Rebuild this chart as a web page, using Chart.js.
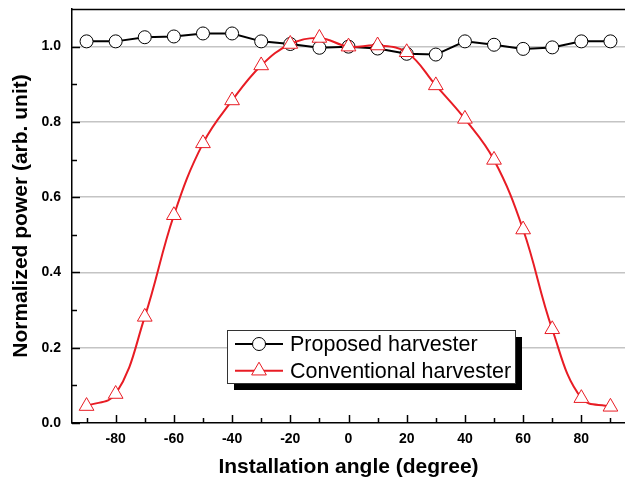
<!DOCTYPE html>
<html lang="en">
<head>
  <meta charset="UTF-8">
  <title>Normalized power vs installation angle</title>
  <script src="https://cdn.jsdelivr.net/npm/chart.js@4.4.3/dist/chart.umd.min.js"></script>
  <style>
    body { margin: 0; background: #fff; }
    canvas { display: block; }
  </style>
</head>
<body>
  <canvas id="powerChart" width="625" height="481"></canvas>

  <script>
    // Data
    const angles = [-90, -80, -70, -60, -50, -40, -30, -20, -10, 0, 10, 20, 30, 40, 50, 60, 70, 80, 90];
    const proposed = [1.014, 1.014, 1.025, 1.027, 1.035, 1.035, 1.014, 1.007, 0.997, 1.0, 0.995, 0.981, 0.979, 1.014, 1.005, 0.994, 0.998, 1.014, 1.014];
    const conventional = [0.045, 0.077, 0.282, 0.552, 0.743, 0.857, 0.95, 1.007, 1.023, 1.0, 1.003, 0.985, 0.897, 0.808, 0.699, 0.514, 0.249, 0.066, 0.043];
    const xTickValues = [-90, -80, -70, -60, -50, -40, -30, -20, -10, 0, 10, 20, 30, 40, 50, 60, 70, 80, 90];
    const yTickValues = [0, 0.1, 0.2, 0.3, 0.4, 0.5, 0.6, 0.7, 0.8, 0.9, 1.0];

    const RED = '#e81c24';
    const FONT = 'Arial, "Liberation Sans", sans-serif';

    const isMajorX = v => v % 20 === 0;
    const isMajorY = v => Math.round(v * 10) % 2 === 0;

    // inside tick marks + top frame line
    const frame = {
      id: 'frame',
      beforeDatasetsDraw(chart) {
        const { ctx, chartArea: a, scales: { x, y } } = chart;
        ctx.save();
        ctx.strokeStyle = '#000';
        ctx.lineWidth = 1.5;
        xTickValues.forEach(v => {
          const px = Math.round(x.getPixelForValue(v)) + 0.5;
          const len = isMajorX(v) ? 8 : 5;
          ctx.beginPath();
          ctx.moveTo(px, a.bottom);
          ctx.lineTo(px, a.bottom - len);
          ctx.stroke();
        });
        yTickValues.forEach(v => {
          const py = Math.round(y.getPixelForValue(v)) + 0.5;
          const len = isMajorY(v) ? 8 : 5;
          ctx.beginPath();
          ctx.moveTo(a.left, py);
          ctx.lineTo(a.left + len, py);
          ctx.stroke();
        });
        ctx.beginPath();
        ctx.moveTo(a.left, a.top + 0.5);
        ctx.lineTo(a.right, a.top + 0.5);
        ctx.stroke();
        ctx.restore();
      }
    };

    // boxed legend with drop shadow, inside the plot
    const boxLegend = {
      id: 'boxLegend',
      afterDraw(chart) {
        const ctx = chart.ctx;
        const bx = 227, by = 330, bw = 288, bh = 53, sh = 7;
        ctx.save();
        ctx.fillStyle = '#000';
        ctx.fillRect(bx + sh, by + sh, bw, bh);
        ctx.fillStyle = '#fff';
        ctx.fillRect(bx, by, bw, bh);
        ctx.strokeStyle = '#333';
        ctx.lineWidth = 1;
        ctx.strokeRect(bx + 0.5, by + 0.5, bw, bh);

        ctx.font = '21.5px ' + FONT;
        ctx.textBaseline = 'middle';
        chart.data.datasets.forEach((ds, i) => {
          const cy = by + 14 + i * 26.7;
          ctx.strokeStyle = ds.borderColor;
          ctx.lineWidth = 2;
          ctx.beginPath();
          ctx.moveTo(235, cy);
          ctx.lineTo(283, cy);
          ctx.stroke();

          ctx.fillStyle = '#fff';
          ctx.strokeStyle = ds.pointBorderColor;
          ctx.lineWidth = ds.pointBorderWidth;
          Chart.helpers.drawPoint(ctx, {
            pointStyle: ds.pointStyle,
            radius: ds.pointRadius,
            borderWidth: ds.pointBorderWidth,
            rotation: 0
          }, 259, cy);

          ctx.fillStyle = '#000';
          ctx.fillText(ds.label, 290, cy + 1);
        });
        ctx.restore();
      }
    };

    const ctxChart = document.getElementById('powerChart').getContext('2d');
    const powerChart = new Chart(ctxChart, {
      type: 'line',
      data: {
        datasets: [
          {
            label: 'Proposed harvester',
            data: angles.map((a, i) => ({ x: a, y: proposed[i] })),
            borderColor: '#000',
            borderWidth: 2,
            tension: 0,
            pointStyle: 'circle',
            pointRadius: 6.5,
            pointBackgroundColor: '#fff',
            pointBorderColor: '#000',
            pointBorderWidth: 1,
            order: 2
          },
          {
            label: 'Conventional harvester',
            data: angles.map((a, i) => ({ x: a, y: conventional[i] })),
            borderColor: RED,
            borderWidth: 2,
            tension: 0.4,
            pointStyle: 'triangle',
            pointRadius: 8.5,
            pointBackgroundColor: '#fff',
            pointBorderColor: RED,
            pointBorderWidth: 1,
            order: 1
          }
        ]
      },
      options: {
        responsive: false,
        animation: false,
        layout: { autoPadding: false, padding: { top: 9, right: 0, left: 0, bottom: 0 } },
        scales: {
          x: {
            type: 'linear',
            min: -95,
            max: 95,
            afterBuildTicks: s => { s.ticks = xTickValues.map(v => ({ value: v })); },
            afterFit: s => { s.height = 58; s.paddingLeft = 0; s.paddingRight = 0; },
            ticks: {
              autoSkip: false,
              maxRotation: 0,
              padding: 8,
              color: '#000',
              font: { family: FONT, size: 14, weight: 'bold' },
              callback: v => isMajorX(v) ? String(v) : ''
            },
            grid: { display: false, drawTicks: false },
            border: { color: '#000', width: 1.5 },
            title: {
              display: true,
              text: 'Installation angle (degree)',
              color: '#000',
              font: { family: FONT, size: 21, weight: 'bold' },
              padding: { top: 0, bottom: 1 }
            }
          },
          y: {
            min: 0,
            max: 1.1,
            afterBuildTicks: s => { s.ticks = yTickValues.map(v => ({ value: v })); },
            afterFit: s => { s.width = 72; s.paddingTop = 0; s.paddingBottom = 0; },
            ticks: {
              autoSkip: false,
              padding: 11,
              color: '#000',
              font: { family: FONT, size: 14, weight: 'bold' },
              callback: v => isMajorY(v) ? v.toFixed(1) : ''
            },
            grid: {
              drawTicks: false,
              lineWidth: 1.5,
              color: c => (c.tick && c.tick.value > 0 && isMajorY(c.tick.value)) ? '#c4c4c4' : 'rgba(0,0,0,0)'
            },
            border: { color: '#000', width: 1.5 },
            title: {
              display: true,
              text: 'Normalized power (arb. unit)',
              color: '#000',
              font: { family: FONT, size: 21, weight: 'bold' },
              padding: { top: 9, bottom: 0 }
            }
          }
        },
        plugins: {
          legend: { display: false },
          tooltip: { enabled: false }
        }
      },
      plugins: [frame, boxLegend]
    });
  </script>
</body>
</html>
